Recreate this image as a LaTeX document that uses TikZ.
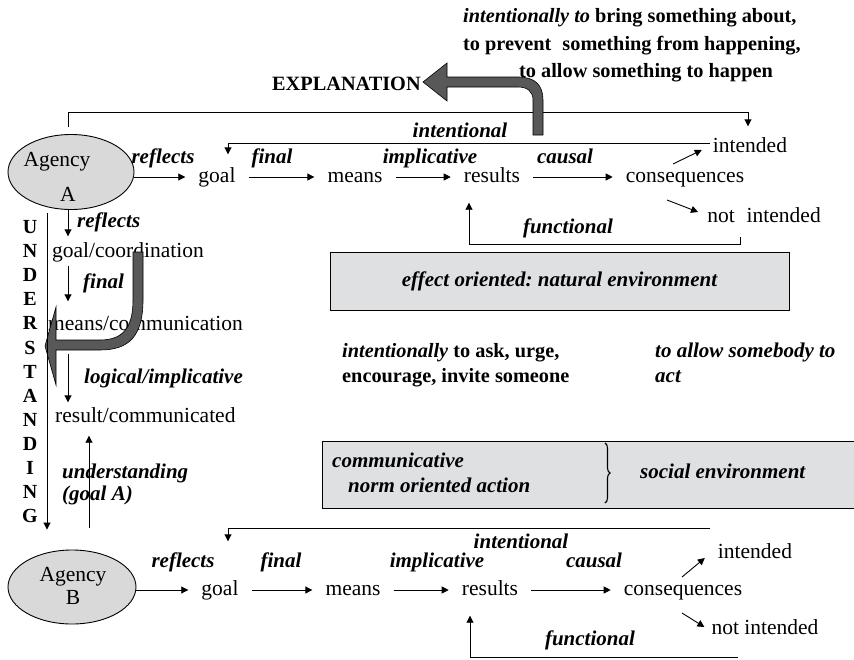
\documentclass[tikz,border=0pt]{standalone}
\usepackage{fontspec}
\setmainfont{Liberation Serif}
\usetikzlibrary{arrows.meta,shapes.geometric,calc,decorations.pathreplacing}
\frenchspacing

\definecolor{boxgray}{RGB}{223,224,226}
\definecolor{ovalgray}{RGB}{217,217,217}
\definecolor{fatgray}{RGB}{88,88,88}

\tikzset{
  txt/.style={font=\fontsize{21.5}{25}\selectfont, text height=15pt, text depth=4pt},
  term/.style={txt, inner xsep=13pt, inner ysep=2pt},
  colterm/.style={txt, inner xsep=0pt, inner ysep=2pt, anchor=west},
  lbl/.style={font=\fontsize{21}{25}\selectfont\bfseries\itshape, text height=14pt, text depth=4pt, inner sep=0pt},
  boldtxt/.style={font=\fontsize{20.3}{24}\selectfont\bfseries, text height=14pt, text depth=4pt, inner sep=0pt},
  caps/.style={font=\fontsize{20}{24}\selectfont\bfseries, text height=13pt, text depth=0pt, inner sep=0pt},
  conn/.style={line width=0.9pt, -{Triangle[length=7pt,width=7pt]}},
  wire/.style={line width=0.9pt},
  agency/.style={ellipse, draw, line width=0.9pt, fill=ovalgray, inner sep=0pt},
  panel/.style={draw, fill=boxgray, line width=0.9pt},
  fatarrow/.style={fill=fatgray, draw=black, line width=0.6pt},
}

\begin{document}
\begin{tikzpicture}[x=1pt,y=-1pt]
\fill[white] (0,0) rectangle (854,659);
\useasboundingbox (0,0) rectangle (854,659);

% ---------------- headline texts
\node[boldtxt, anchor=west] (top1) at (463,17) {\textit{intentionally to} bring something about,};
\node[boldtxt, anchor=west] (top2) at (463,45) {to prevent\hspace{0.3em} something from happening,};
\node[boldtxt, anchor=west] (top3) at (519,72) {to allow something to happen};
\node[boldtxt, anchor=west] (expl) at (272,85) {EXPLANATION};

% ---------------- agency A chain
\node[agency, minimum width=126pt, minimum height=75pt] (agA) at (71,172) {};
\node[txt, inner sep=0pt] (agAt) at (57,161) {Agency};
\node[txt, inner sep=0pt] (agAl) at (68,196) {A};

\node[term] (gA) at (217,177) {goal};
\node[term] (mA) at (355,177) {means};
\node[term] (rA) at (492,177) {results};
\node[term] (cA) at (685,177) {consequences};
\node[term, inner xsep=2pt] (iA) at (750,147) {intended};
\node[term, inner xsep=2pt] (nA) at (764,217) {not\hspace{12pt}intended};

\node[lbl] (lrefA) at (163,158) {reflects};
\node[lbl] (lfinA) at (272,158) {final};
\node[lbl] (limpA) at (430,158) {implicative};
\node[lbl] (lcauA) at (565,158) {causal};
\node[lbl] (lintA) at (460,132) {intentional};
\node[lbl] (lfunA) at (568,228) {functional};

\draw[conn] (agA.east |- gA.west) -- (gA.west);
\draw[conn] (gA.east) -- (mA.west);
\draw[conn] (mA.east) -- (rA.west);
\draw[conn] (rA.east) -- (cA.west);
\draw[conn] ($(cA)+(-12,-13)$) -- ($(iA.west)+(-9,3)$);
\draw[conn] ($(cA)+(-18,23)$) -- ($(nA.west)+(-7,-5)$);

% feedback lines of A
\draw[conn] ($(agA.north)+(-3,-7)$) |- ($(iA.north)+(-2,-23)$) -- ($(iA.north)+(-2,-9)$);
\draw[conn] ($(iA.west)+(-1,-4)$) -| ($(gA.north)+(11,-11)$);
\draw[conn] ($(nA)+(-24,20)$) -- ($(nA)+(-24,27)$) -| ($(rA.south)+(-23,14)$);

% explanation arrow
\path[fatarrow] (423,82) -- (447,63) -- (447,77) -- (518,77)
  .. controls (535,77) and (543,85) .. (543,100) -- (543,135) -- (533,135) -- (533,100)
  .. controls (533,92) and (528,87) .. (518,87) -- (447,87) -- (447,101) -- cycle;

% ---------------- natural environment
\node[panel, minimum width=459pt, minimum height=58pt, font=\fontsize{21}{25}\selectfont\bfseries\itshape] (effect) at (559.5,281) {effect oriented: natural environment};

% ---------------- understanding column
\foreach \l [count=\i] in {U,N,D,E,R,S,T,A,N,D,I,N,G}
  \node[caps] (und\i) at ({30},{227+24.1*(\i-1)}) {\l};
\coordinate (udtop) at (47,213);

\node[colterm] (gc) at (52,252) {goal/coordination};
\node[colterm] (mc) at (48,325) {means/communication};
\node[colterm] (rc) at (55,417) {result/communicated};

\node[lbl, anchor=west] (lrefc) at (77,222) {reflects};
\node[lbl, anchor=west] (lfinc) at (83,283) {final};
\node[lbl, anchor=west] (llogc) at (84,378) {logical/implicative};
\node[lbl, anchor=west] (lundc) at (62,473) {understanding};
\node[lbl, anchor=west] (lgoac) at (62,495) {(goal A)};

\draw[conn] ($(agA.south)+(-3,0)$) -- ($(gc.north west)+(16,-4)$);
\draw[conn] ($(gc.south west)+(16,2)$) -- ($(mc.north west)+(20,-12)$);
\draw[conn] ($(mc.south west)+(20,17)$) -- ($(rc.north west)+(13,-3)$);

% communication arrow
\path[fatarrow] (45,346) -- (56,307) -- (56,340) -- (100,340)
  .. controls (125,340) and (133,325) .. (133,300) -- (133,252) -- (143,252) -- (143,300)
  .. controls (143,335) and (130,350) .. (100,350) -- (56,350) -- (56,385) -- cycle;

% ---------------- social environment
\node[boldtxt, anchor=west] (mid1) at (342,352) {\textit{intentionally} to ask, urge,};
\node[boldtxt, anchor=west] (mid2) at (342,377) {encourage, invite someone};
\node[lbl, anchor=west] (mid3) at (655,352) {to allow somebody to};
\node[lbl, anchor=west] (mid4) at (655,377) {act};

\node[fill=boxgray, minimum width=545pt, minimum height=67pt, anchor=north west, inner sep=0pt] (social) at (322,441) {};
\draw[wire] (social.north east) -- (social.north west) -- (social.south west) -- (social.south east);
\node[lbl, anchor=west] (comm1) at (332,462) {communicative};
\node[lbl, anchor=west] (comm2) at (348,487) {norm oriented action};
\draw[line width=1.1pt, decorate, decoration={brace, amplitude=5pt}] (605,443) -- (605,503);
\node[lbl, anchor=west] (socl) at (640,473) {social environment};

% ---------------- agency B chain
\node[agency, minimum width=128pt, minimum height=74pt] (agB) at (72,587) {};
\node[txt, inner sep=0pt] (agBt) at (73,576) {Agency};
\node[txt, inner sep=0pt] (agBl) at (73,599) {B};

\draw[conn] (udtop) -- ($(agB.north)+(-25,-20)$);
\draw[conn] ($(agB.north)+(17,-22)$) -- ($(rc.south west)+(34,7)$);

\node[term] (gB) at (220,590) {goal};
\node[term] (mB) at (353,590) {means};
\node[term] (rB) at (490,590) {results};
\node[term] (cB) at (683,590) {consequences};
\node[term, inner xsep=2pt] (iB) at (755,553) {intended};
\node[term, inner xsep=2pt] (nB) at (765,629) {not intended};

\node[lbl] (lrefB) at (183,562) {reflects};
\node[lbl] (lfinB) at (281,562) {final};
\node[lbl] (limpB) at (437,562) {implicative};
\node[lbl] (lcauB) at (594,562) {causal};
\node[lbl] (lintB) at (521,543) {intentional};
\node[lbl] (lfunB) at (590,640) {functional};

\draw[conn] (agB.east |- gB.west) -- (gB.west);
\draw[conn] (gB.east) -- (mB.west);
\draw[conn] (mB.east) -- (rB.west);
\draw[conn] (rB.east) -- (cB.west);
\draw[conn] ($(cB)+(-1,-13)$) -- ($(iB.west)+(-11,5)$);
\draw[conn] ($(cB)+(-1,23)$) -- ($(nB.west)+(-5,-2)$);

\coordinate (bline) at (710,528);
\draw[conn] (bline) -| ($(gB.north)+(8,-37)$);
\coordinate (fline) at (738,657);
\draw[conn] (fline) -| ($(rB.south)+(-20,14)$);
\end{tikzpicture}
\end{document}
